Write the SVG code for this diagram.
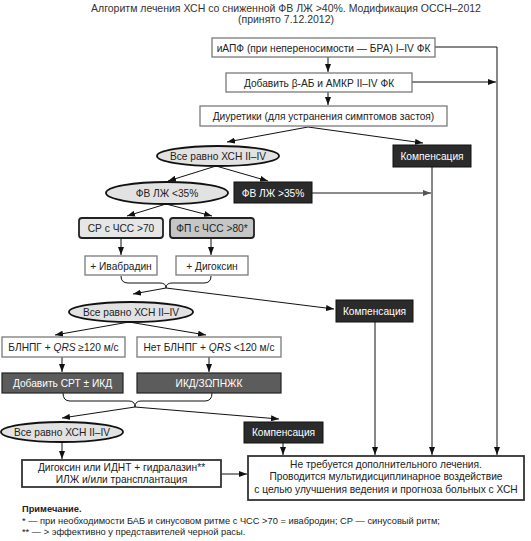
<svg xmlns="http://www.w3.org/2000/svg" width="531" height="541" viewBox="0 0 531 541">
<defs>
<marker id="ah" viewBox="0 0 8 6" refX="8" refY="3" markerWidth="8" markerHeight="6" markerUnits="userSpaceOnUse" orient="auto">
<path d="M0,0 L8,3 L0,6 Z" fill="#111"/>
</marker>
<marker id="ahg" viewBox="0 0 8 6" refX="8" refY="3" markerWidth="8" markerHeight="6" markerUnits="userSpaceOnUse" orient="auto">
<path d="M0,0 L8,3 L0,6 Z" fill="#555"/>
</marker>
</defs>
<style>
text{font-family:"Liberation Sans",Arial,sans-serif;font-size:10.2px;fill:#222;text-anchor:middle}
.t{font-size:10.5px;fill:#333}
.w{fill:#fff}
.box{fill:#fff;stroke:#7a7a7a;stroke-width:1.3}
.fin{fill:#fff;stroke:#333;stroke-width:1.8}
.dk{fill:#2b2b2b;stroke:#111;stroke-width:1}
.md{fill:#5c5c5c;stroke:#222;stroke-width:1.2}
.el{fill:#e2e2e2;stroke:#111;stroke-width:1.8}
.r1{fill:#e6e6e6;stroke:#222;stroke-width:1.8}
.r2{fill:#c6c6c6;stroke:#222;stroke-width:1.8}
.ln{fill:none;stroke:#111;stroke-width:1}
.arr{fill:none;stroke:#111;stroke-width:1;marker-end:url(#ah)}
.arrg{fill:none;stroke:#666;stroke-width:1.6;marker-end:url(#ahg)}
.note{text-anchor:start;font-size:9.3px}
</style>
<rect width="531" height="541" fill="#fff"/>
<g id="title">
<text class="t" x="286" y="12">Алгоритм лечения ХСН со сниженной ФВ ЛЖ &gt;40%. Модификация ОССН–2012</text>
<text class="t" x="286" y="23">(принято 7.12.2012)</text>
</g>
<g id="connectors">
<path class="ln" d="M435,47 H497 V447"/>
<path class="arr" d="M497,447 V455"/>
<path class="arr" d="M412,82 H496"/>
<path class="arr" d="M328,57 V72"/>
<path class="arr" d="M328,92 V105"/>
<path class="arr" d="M308,127 L227,142"/>
<path class="arr" d="M308,127 L423,143"/>
<path class="arr" d="M216,166 L168,181"/>
<path class="arr" d="M216,166 L268,181"/>
<path class="arrg" d="M312,193 L431,193"/>
<path class="arr" d="M432,167 V455"/>
<path class="arr" d="M166,204 L127,216"/>
<path class="arr" d="M166,204 L212,216"/>
<path class="arr" d="M121,238 V255"/>
<path class="arr" d="M211,238 V255"/>
<path class="ln" d="M121,276 Q121,283 128,283 L160,283 Q166,283 166,288 Q166,283 172,283 L204,283 Q211,283 211,276"/>
<path class="arr" d="M166,288 L133,294"/>
<path class="arr" d="M166,288 L334,309"/>
<path class="arr" d="M375,322 V455"/>
<path class="arr" d="M129,322 L55,335"/>
<path class="arr" d="M129,322 L206,335"/>
<path class="arr" d="M62,357 V372"/>
<path class="arr" d="M209,357 V372"/>
<path class="ln" d="M63,393 Q63,401 70,401 L129,401 Q135,401 135,407 Q135,401 141,401 L205,401 Q212,401 212,393"/>
<path class="arr" d="M135,407 L62,418"/>
<path class="arr" d="M135,407 L279,419"/>
<path class="arr" d="M283,443 V455"/>
<path class="arr" d="M62,442 V459"/>
<path class="arr" d="M221,474 L247,474"/>
</g>
<g id="n1"><rect class="box" x="212" y="38" width="223" height="19"/><text x="323.5" y="51.5">иАПФ (при непереносимости — БРА) I–IV ФК</text></g>
<g id="n2"><rect class="box" x="226" y="73" width="186" height="19"/><text x="319" y="86.5">Добавить β-АБ и АМКР II–IV ФК</text></g>
<g id="n3"><rect class="box" x="200" y="106" width="247" height="20"/><text x="323.5" y="120">Диуретики (для устранения симптомов застоя)</text></g>
<g id="n4"><ellipse class="el" cx="218" cy="156" rx="61" ry="10"/><text x="218" y="159.5">Все равно ХСН II–IV</text></g>
<g id="n5"><rect class="dk" x="393" y="145" width="78" height="22"/><text class="w" x="432" y="159.5">Компенсация</text></g>
<g id="n6"><ellipse class="el" cx="167" cy="193" rx="61" ry="11"/><text x="167" y="196.5">ФВ ЛЖ &lt;35%</text></g>
<g id="n7"><rect class="dk" x="234" y="182" width="78" height="21"/><text class="w" x="273" y="196.5">ФВ ЛЖ &gt;35%</text></g>
<g id="n8"><rect class="r1" x="79" y="218" width="84" height="20" rx="3"/><text x="121" y="231.5">СР с ЧСС &gt;70</text></g>
<g id="n9"><rect class="r2" x="170" y="218" width="84" height="20" rx="3"/><text x="212" y="231.5">ФП с ЧСС &gt;80*</text></g>
<g id="n10"><rect class="box" x="85" y="256" width="72" height="19"/><text x="121" y="269.5">+ Ивабрадин</text></g>
<g id="n11"><rect class="box" x="176" y="256" width="72" height="19"/><text x="212" y="269.5">+ Дигоксин</text></g>
<g id="n12"><ellipse class="el" cx="131" cy="312" rx="62" ry="10"/><text x="131" y="315.5">Все равно ХСН II–IV</text></g>
<g id="n13"><rect class="dk" x="336" y="300" width="77" height="22"/><text class="w" x="374.5" y="314.5">Компенсация</text></g>
<g id="n14"><rect class="box" x="2" y="337" width="123" height="20"/><text x="63.5" y="350.5">БЛНПГ + <tspan font-style="italic">QRS</tspan> ≥120 м/с</text></g>
<g id="n15"><rect class="box" x="137" y="337" width="144" height="20"/><text x="209" y="350.5">Нет БЛНПГ + <tspan font-style="italic">QRS</tspan> &lt;120 м/с</text></g>
<g id="n16"><rect class="md" x="2" y="373" width="121" height="20"/><text class="w" x="62.5" y="387">Добавить СРТ ± ИКД</text></g>
<g id="n17"><rect class="md" x="137" y="373" width="144" height="20"/><text class="w" x="209" y="387">ИКД/ЗΩПНЖК</text></g>
<g id="n18"><ellipse class="el" cx="62" cy="432" rx="61" ry="10"/><text x="62" y="435.5">Все равно ХСН II–IV</text></g>
<g id="n19"><rect class="dk" x="244" y="422" width="79" height="21"/><text class="w" x="283.5" y="436">Компенсация</text></g>
<g id="n20"><rect class="fin" x="22" y="460" width="199" height="27"/><text x="121.5" y="471">Дигоксин или ИДНТ + гидралазин**</text><text x="121.5" y="483">ИЛЖ и/или трансплантация</text></g>
<g id="n21"><rect class="fin" x="248" y="456" width="276" height="44"/><text x="386" y="468">Не требуется дополнительного лечения.</text><text x="386" y="480">Проводится мультидисциплинарное воздействие</text><text x="386" y="493">с целью улучшения ведения и прогноза больных с ХСН</text></g>
<g id="notes">
<text class="note" x="22" y="512" font-weight="bold">Примечание.</text>
<text class="note" x="22" y="524">* — при необходимости БАБ и синусовом ритме с ЧСС &gt;70 = ивабродин; СР — синусовый ритм;</text>
<text class="note" x="22" y="535">** — &gt; эффективно у представителей черной расы.</text>
</g>
</svg>
